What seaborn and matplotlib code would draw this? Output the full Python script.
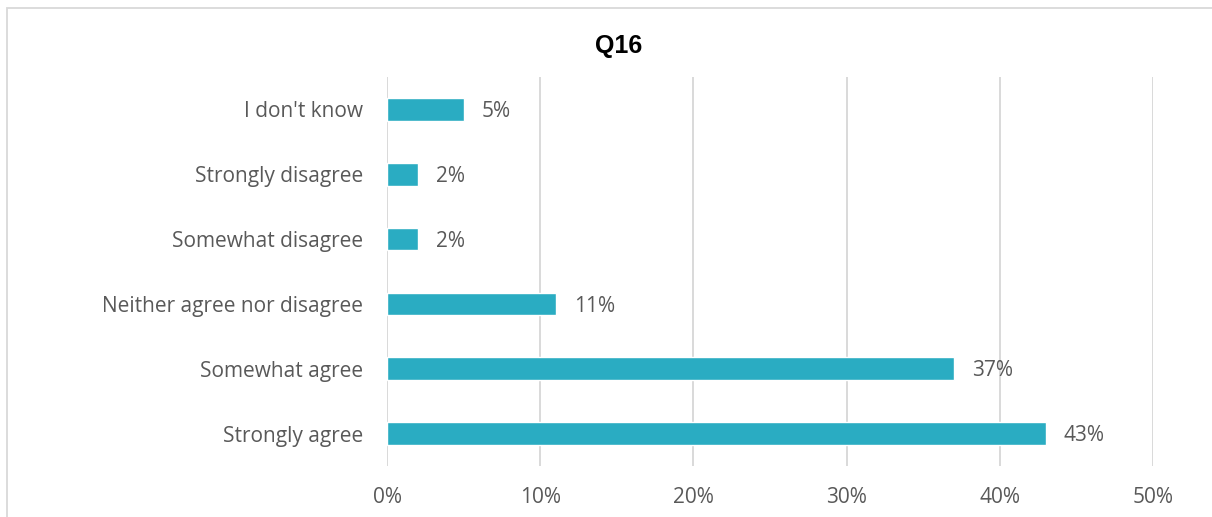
import matplotlib
matplotlib.use("Agg")
import matplotlib.pyplot as plt
from matplotlib.patches import Rectangle
from matplotlib.ticker import FuncFormatter
import pandas as pd
import seaborn as sns

# Survey responses for Q16 (share of respondents, %)
categories = [
    "I don't know",
    "Strongly disagree",
    "Somewhat disagree",
    "Neither agree nor disagree",
    "Somewhat agree",
    "Strongly agree",
]
shares = [5, 2, 2, 11, 37, 43]
x_ticks = [0, 10, 20, 30, 40, 50]

df = pd.DataFrame({"response": categories, "share": shares})

sns.set_theme(style="white")
plt.rcParams["font.family"] = ["Open Sans", "DejaVu Sans"]

BAR = "#2AACC2"
TEXT = "#595959"
GRID = "#D9D9D9"

fig = plt.figure(figsize=(12.12, 5.17), dpi=100)
ax = fig.add_axes([387 / 1212, 1 - 466 / 517, (1153 - 387) / 1212, (466 - 77) / 517])

sns.barplot(data=df, y="response", x="share", orient="h", order=categories,
            color=BAR, width=0.35, saturation=1, ax=ax)

ax.set_xlim(0, 50)
ax.set_ylim(5.5, -0.5)
ax.set_xticks(x_ticks)
ax.xaxis.set_major_formatter(FuncFormatter(lambda v, _: f"{v:.0f}%"))
ax.grid(axis="x", color=GRID, linewidth=1.4)
ax.set_axisbelow(True)
for s in ax.spines.values():
    s.set_visible(False)
ax.set_xlabel("")
ax.set_ylabel("")
ax.tick_params(axis="both", length=0, labelsize=15, colors=TEXT)
ax.tick_params(axis="x", pad=15)
ax.tick_params(axis="y", pad=17)

for i, v in enumerate(shares):
    ax.annotate(f"{v}%", xy=(v, i), xytext=(13, -1.5), textcoords="offset points",
                ha="left", va="center", fontsize=15, color=TEXT)

fig.text(619 / 1212, 1 - 46 / 517, "Q16", ha="center", va="center",
         fontsize=18, fontweight="bold", color="#000000", family="Liberation Sans")

# Chart-area frame
fig.patches.append(Rectangle((7 / 1212, -0.1), 1.2, 1 - 8 / 517 + 0.1,
                             transform=fig.transFigure, fill=False,
                             edgecolor=GRID, linewidth=1.3))

fig.savefig("out.png", dpi=100, facecolor="white")
